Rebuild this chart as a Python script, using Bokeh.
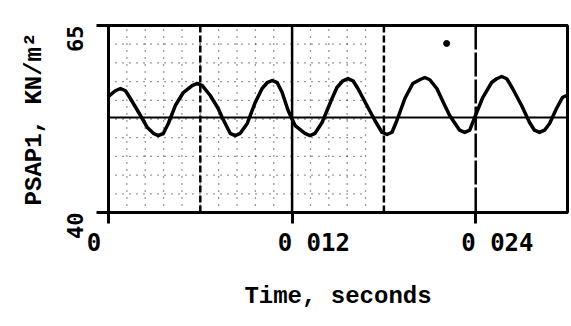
import math
from bokeh.plotting import figure
from bokeh.models import FixedTicker, Span, Range1d
from bokeh.embed import file_html
from bokeh.resources import INLINE

# ---- data ----
time_s = [0.0, 0.00045, 0.00078, 0.00111, 0.00143, 0.00209, 0.00254, 0.00293, 0.00326,
          0.00359, 0.00391, 0.00437, 0.00489, 0.00547, 0.00580, 0.00613, 0.00665, 0.00717,
          0.00743, 0.00795, 0.00828, 0.00861, 0.00907, 0.00959, 0.01004, 0.01037, 0.01070,
          0.01103, 0.01135, 0.01174, 0.01220, 0.01284, 0.01317, 0.01350, 0.01396, 0.01461,
          0.01493, 0.01532, 0.01565, 0.01598, 0.01630, 0.01689, 0.01741, 0.01787, 0.01820,
          0.01853, 0.01885, 0.01937, 0.01989, 0.02034, 0.02067, 0.02100, 0.02146, 0.02198,
          0.02230, 0.02295, 0.02328, 0.02361, 0.02393, 0.02446, 0.02504, 0.02537, 0.02570,
          0.02603, 0.02641, 0.02700, 0.02752, 0.02784, 0.02817, 0.02850, 0.02883, 0.02928,
          0.02967, 0.02993]
psap1 = [55.51, 56.28, 56.58, 56.28, 55.24, 52.97, 51.36, 50.59, 50.29,
         50.59, 51.90, 54.30, 56.04, 56.95, 57.25, 56.95, 55.64, 53.90,
         52.70, 50.59, 50.29, 50.59, 51.90, 54.71, 56.58, 57.35, 57.65,
         57.35, 56.04, 53.64, 51.63, 50.59, 50.29, 50.59, 52.03, 55.24,
         56.71, 57.61, 57.91, 57.61, 56.58, 54.30, 52.30, 50.73, 50.43,
         50.73, 52.30, 55.24, 57.25, 57.75, 58.05, 57.75, 56.58, 54.30,
         52.97, 51.00, 50.70, 51.00, 52.70, 55.37, 57.38, 57.88, 58.18,
         57.88, 56.58, 54.30, 52.03, 51.00, 50.70, 51.00, 51.90, 53.90,
         55.37, 55.64]
mean_level = 52.7

x_ticks = [0.0, 0.012, 0.024]
x_tick_labels = ["0", "0 012", "0 024"]
y_ticks = [40, 65]
y_tick_labels = ["40", "65"]

major_dashed_t = [0.006, 0.018]
major_solid_t = [0.012]
major_longdash_t = [0.024]

minor_t = [0.0012, 0.0024, 0.0036, 0.0048, 0.0060, 0.0072, 0.0084, 0.0096, 0.0108,
           0.0120, 0.0132, 0.0144, 0.0156, 0.0168]
minor_v = [42.5, 45.0, 47.5, 50.0, 52.5, 55.0, 57.5, 60.0, 62.5]
minor_t_end = 0.0168

speck_t = [0.0221]
speck_v = [62.6]

X_START, X_END = 0.0, 0.03
Y_START, Y_END = 40, 65

NBSP = "\u00a0"


def x_label_text(s):
    # the original prints the integer digit to the left of each tick;
    # pad with no-break spaces so the centred axis label lands there
    if len(s) == 1:
        return s + NBSP * 2
    return NBSP * 3 + s


p = figure(width=571, height=326, output_backend="svg", toolbar_location=None,
           x_range=Range1d(X_START, X_END), y_range=Range1d(Y_START, Y_END),
           min_border_left=108, min_border_right=4, min_border_top=25,
           min_border_bottom=114)
p.background_fill_color = "white"
p.border_fill_color = "white"
p.grid.visible = False
p.outline_line_color = "black"
p.outline_line_width = 3

# dotted minor grid (left part only, as in the scan)
p.multi_line(xs=[[t, t] for t in minor_t], ys=[[Y_START, Y_END] for _ in minor_t],
             line_color="black", line_width=1.3, line_dash="1 6", line_alpha=0.8)
p.multi_line(xs=[[X_START, minor_t_end] for _ in minor_v], ys=[[v, v] for v in minor_v],
             line_color="black", line_width=1.3, line_dash="1 6", line_alpha=0.8)

# major vertical lines
for t in major_dashed_t:
    p.add_layout(Span(location=t, dimension="height", line_color="black",
                      line_width=2.5, line_dash="7 3"))
for t in major_solid_t:
    p.add_layout(Span(location=t, dimension="height", line_color="black",
                      line_width=2.5))
for t in major_longdash_t:
    p.add_layout(Span(location=t, dimension="height", line_color="black",
                      line_width=2.5, line_dash="24 3"))

# mean level line
p.add_layout(Span(location=mean_level, dimension="width", line_color="black",
                  line_width=2.2))

# signal
p.line(time_s, psap1, line_color="black", line_width=3.5, line_join="round")
p.scatter(speck_t, speck_v, size=6, color="black")

# x axis
p.xaxis.ticker = FixedTicker(ticks=x_ticks)
p.xaxis.major_label_overrides = {t: x_label_text(s) for t, s in zip(x_ticks, x_tick_labels)}
p.xaxis.major_label_text_font = "DejaVu Sans Mono"
p.xaxis.major_label_text_font_style = "bold"
p.xaxis.major_label_text_font_size = "24px"
p.xaxis.major_label_text_color = "black"
p.xaxis.major_label_standoff = 5
p.xaxis.axis_line_width = 3
p.xaxis.major_tick_line_width = 3
p.xaxis.major_tick_out = 11
p.xaxis.major_tick_in = 0
p.xaxis.minor_tick_out = 0
p.xaxis.minor_tick_in = 0
p.xaxis.axis_label = "Time, seconds"
p.xaxis.axis_label_text_font = "Liberation Mono"
p.xaxis.axis_label_text_font_style = "bold"
p.xaxis.axis_label_text_font_size = "24px"
p.xaxis.axis_label_text_color = "black"
p.xaxis.axis_label_standoff = 23

# y axis
p.yaxis.ticker = FixedTicker(ticks=y_ticks)
p.yaxis.major_label_overrides = {t: s for t, s in zip(y_ticks, y_tick_labels)}
p.yaxis.major_label_orientation = math.pi / 2
p.yaxis.major_label_text_font = "DejaVu Sans Mono"
p.yaxis.major_label_text_font_style = "bold"
p.yaxis.major_label_text_font_size = "22px"
p.yaxis.major_label_text_color = "black"
p.yaxis.major_label_standoff = 22
p.yaxis.axis_line_width = 3
p.yaxis.major_tick_line_width = 3
p.yaxis.major_tick_out = 12
p.yaxis.major_tick_in = 0
p.yaxis.minor_tick_out = 0
p.yaxis.minor_tick_in = 0
p.yaxis.axis_label = "PSAP1, KN/m\u00b2"
p.yaxis.axis_label_text_font = "Liberation Mono"
p.yaxis.axis_label_text_font_style = "bold"
p.yaxis.axis_label_text_font_size = "24px"
p.yaxis.axis_label_text_color = "black"
p.yaxis.axis_label_standoff = 8

open("out.html", "w").write(file_html(p, INLINE))
